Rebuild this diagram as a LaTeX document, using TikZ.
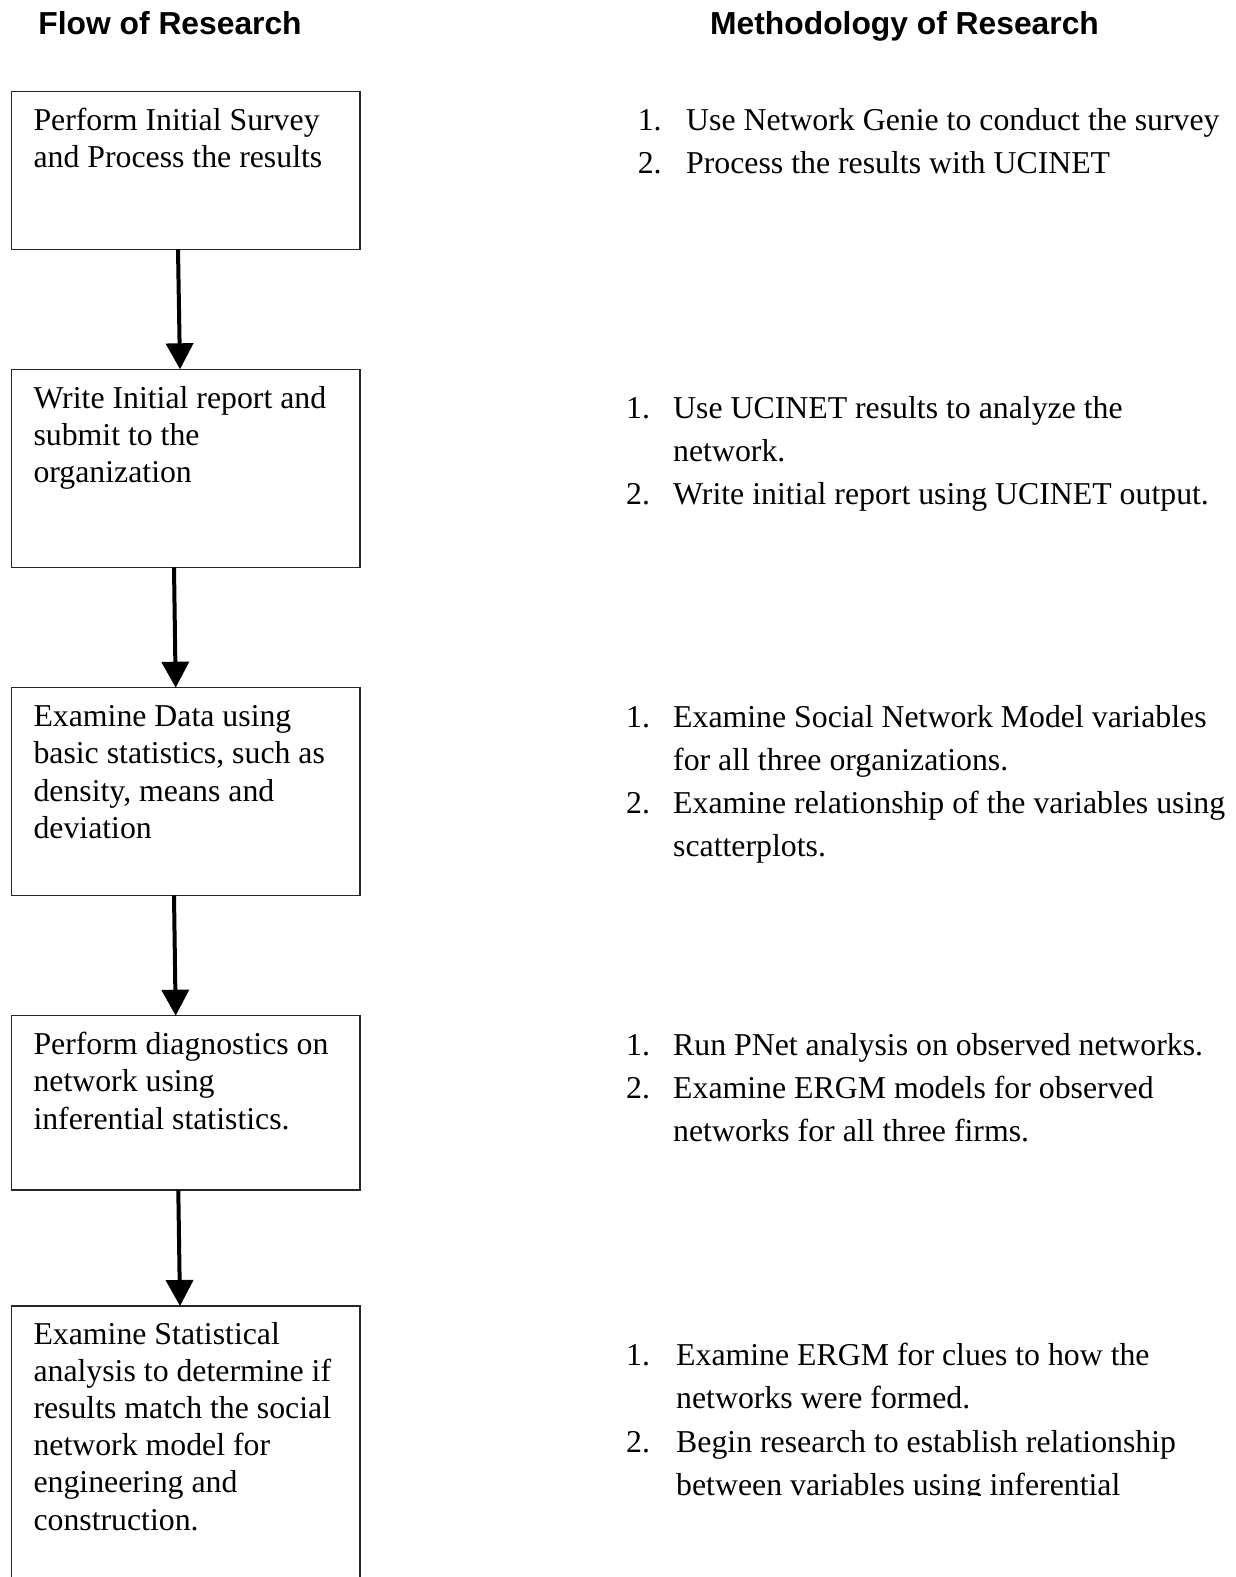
\documentclass[tikz,border=0pt]{standalone}
\usepackage{fontspec}
\setmainfont{Liberation Serif}
\newfontfamily\headfont{Liberation Sans}
\usetikzlibrary{arrows.meta}

% multi-line text whose baseline is that of its first line
\newcommand\flowpar[1]{\parbox[t]{330pt}{\raggedright #1}}
\newcommand\methpar[1]{\parbox[t]{580pt}{\raggedright #1}}

\begin{document}
\begin{tikzpicture}[x=1pt,y=-1pt,
  box/.style={draw=black!85, line width=1.3pt, rectangle, inner sep=0pt,
    outer sep=0pt, anchor=north west, minimum width=348.3pt},
  flowtxt/.style={anchor=base west, inner sep=0pt,
    font=\fontsize{31.8}{37.2}\selectfont},
  methtxt/.style={anchor=base west, inner sep=0pt,
    font=\fontsize{31.8}{43.3}\selectfont},
  heading/.style={anchor=base west, inner sep=0pt,
    font=\headfont\bfseries\fontsize{31.8}{38}\selectfont},
  flow/.style={line width=4pt, -{Triangle[width=27pt,length=26pt]}}]

\clip (0,0) rectangle (1235,1577);

% column headings
\node[heading] (hflow) at (38.2,34) {Flow of Research};
\node[heading] (hmeth) at (710,34) {Methodology of Research};

% flow boxes
\node[box, minimum height=157.6pt] (b1) at (11.7,91.7) {};
\node[box, minimum height=198pt]   (b2) at (11.7,369.3) {};
\node[box, minimum height=207.6pt] (b3) at (11.7,687.7) {};
\node[box, minimum height=174.3pt] (b4) at (11.7,1015.7) {};
\node[box, minimum height=400pt]   (b5) at (11.7,1306) {};

\node[flowtxt] (t1) at (33.3,130.7) {\flowpar{Perform Initial Survey\\and Process the results}};
\node[flowtxt] (t2) at (33.3,408.3) {\flowpar{Write Initial report and\\submit to the\\organization}};
\node[flowtxt] (t3) at (33.3,726.7) {\flowpar{Examine Data using\\basic statistics, such as\\density, means and\\deviation}};
\node[flowtxt] (t4) at (33.3,1054.7) {\flowpar{Perform diagnostics on\\network using\\inferential statistics.}};
\node[flowtxt] (t5) at (33.3,1344) {\flowpar{Examine Statistical\\analysis to determine if\\results match the social\\network model for\\engineering and\\construction.}};

% connectors
\draw[flow] ([xshift=166.3pt]b1.south west) -- ([xshift=168.3pt]b2.north west);
\draw[flow] ([xshift=162.3pt]b2.south west) -- ([xshift=164pt]b3.north west);
\draw[flow] ([xshift=162.3pt]b3.south west) -- ([xshift=164pt]b4.north west);
\draw[flow] ([xshift=166.6pt]b4.south west) -- ([xshift=168.3pt]b5.north west);

% methodology lists
\node[methtxt] (m1a) at (637.6,130.5) {1.};
\node[methtxt] (m1at) at (686,130.5) {\methpar{Use Network Genie to conduct the survey}};
\node[methtxt] (m1b) at (637.6,173.8) {2.};
\node[methtxt] (m1bt) at (686,173.8) {\methpar{Process the results with UCINET}};

\node[methtxt] (m2a) at (626,418) {1.};
\node[methtxt] (m2at) at (673,418) {\methpar{Use UCINET results to analyze the\\network.}};
\node[methtxt] (m2b) at (626,504.6) {2.};
\node[methtxt] (m2bt) at (673,504.6) {\methpar{Write initial report using UCINET output.}};

\node[methtxt] (m3a) at (626,727) {1.};
\node[methtxt] (m3at) at (673,727) {\methpar{Examine Social Network Model variables\\for all three organizations.}};
\node[methtxt] (m3b) at (626,813.6) {2.};
\node[methtxt] (m3bt) at (673,813.6) {\methpar{Examine relationship of the variables using\\scatterplots.}};

\node[methtxt] (m4a) at (626,1055) {1.};
\node[methtxt] (m4at) at (673,1055) {\methpar{Run PNet analysis on observed networks.}};
\node[methtxt] (m4b) at (626,1098.3) {2.};
\node[methtxt] (m4bt) at (673,1098.3) {\methpar{Examine ERGM models for observed\\networks for all three firms.}};

\begin{scope}
  \clip (600,1250) rectangle (1235,1495);
  \node[methtxt] (m5a) at (626,1365.5) {1.};
  \node[methtxt] (m5at) at (676,1365.5) {\methpar{Examine ERGM for clues to how the\\networks were formed.}};
  \node[methtxt] (m5b) at (626,1452.1) {2.};
  \node[methtxt] (m5bt) at (676,1452.1) {\methpar{Begin research to establish relationship\\between variables using inferential}};
\end{scope}
\end{tikzpicture}
\end{document}
